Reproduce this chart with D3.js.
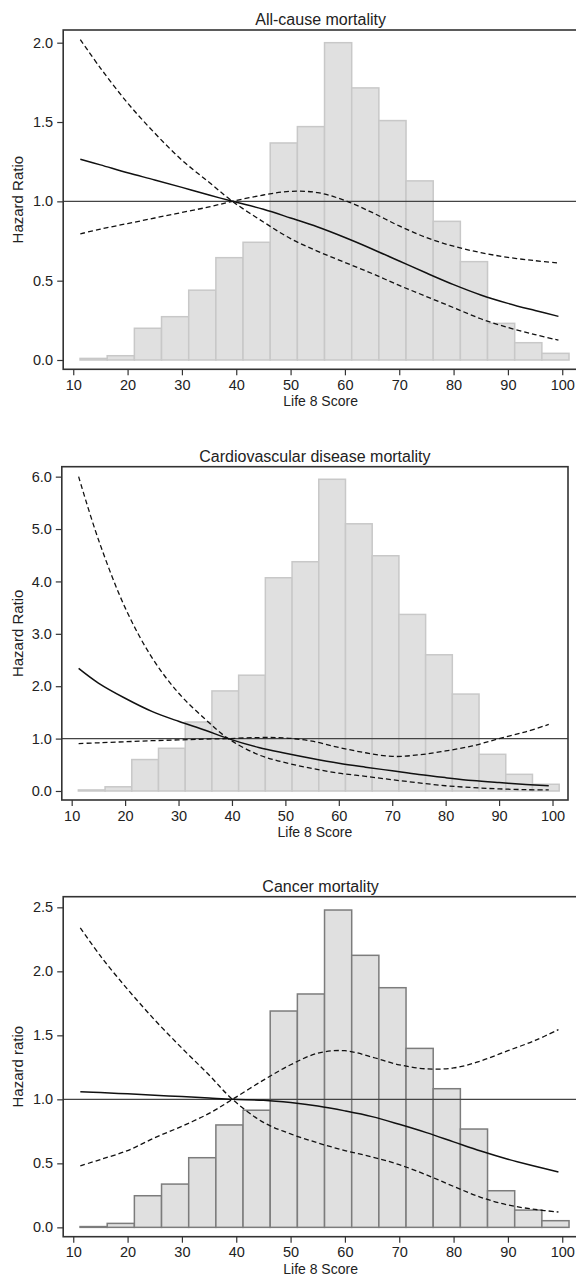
<!DOCTYPE html>
<html>
<head>
<meta charset="utf-8">
<script src="https://cdn.jsdelivr.net/npm/d3@7"></script>
<style>
  body { margin: 0; background: #fff; }
  svg { display: block; font-family: "Liberation Sans", Arial, sans-serif; }
</style>
</head>
<body>
<div id="chart"></div>
<script>
// histogram bins (width 5), left edges
const binStart = [11.25, 16.25, 21.25, 26.25, 31.25, 36.25, 41.25, 46.25, 51.25,
  56.25, 61.25, 66.25, 71.25, 76.25, 81.25, 86.25, 91.25, 96.25];
const binWidth = 5;

const allHist = [0.01, 0.027, 0.20, 0.273, 0.44, 0.645, 0.742, 1.368, 1.471,
  2.0, 1.715, 1.509, 1.129, 0.874, 0.62, 0.231, 0.109, 0.042];
const cvdHist = [0.02, 0.08, 0.60, 0.815, 1.317, 1.91, 2.21, 4.07, 4.376,
  5.95, 5.10, 4.49, 3.37, 2.60, 1.85, 0.70, 0.318, 0.128];
const cancerHist = [0.006, 0.031, 0.247, 0.338, 0.544, 0.80, 0.915, 1.69, 1.823,
  2.479, 2.125, 1.872, 1.398, 1.083, 0.768, 0.286, 0.135, 0.052];

// spline curves (hazard ratio and 95% CI)
const curveX = [11.3, 15, 20, 25, 30, 35, 39.3, 45, 50, 55, 60, 65, 70, 75, 80, 85, 90, 95, 99.3];

const allHR    = [1.265, 1.23, 1.18, 1.135, 1.088, 1.04, 1.0, 0.95, 0.895, 0.838, 0.772, 0.70, 0.624, 0.548, 0.475, 0.41, 0.357, 0.312, 0.275];
const allUpper = [0.795, 0.825, 0.86, 0.895, 0.93, 0.965, 1.0, 1.04, 1.063, 1.055, 1.005, 0.93, 0.845, 0.772, 0.717, 0.677, 0.647, 0.626, 0.612];
const allLower = [2.02, 1.84, 1.62, 1.43, 1.26, 1.12, 1.0, 0.87, 0.765, 0.685, 0.615, 0.545, 0.47, 0.40, 0.33, 0.26, 0.205, 0.16, 0.125];

const cvdHR    = [2.34, 2.06, 1.77, 1.52, 1.33, 1.16, 1.0, 0.83, 0.72, 0.62, 0.53, 0.455, 0.385, 0.315, 0.255, 0.2, 0.16, 0.125, 0.10];
const cvdUpper = [0.905, 0.92, 0.94, 0.96, 0.975, 0.99, 1.0, 1.02, 1.012, 0.95, 0.83, 0.73, 0.66, 0.69, 0.765, 0.86, 1.0, 1.13, 1.27];
const cvdLower = [6.0, 4.8, 3.5, 2.55, 1.87, 1.37, 1.0, 0.69, 0.54, 0.43, 0.34, 0.28, 0.215, 0.155, 0.1, 0.065, 0.04, 0.025, 0.02];

const cancerHR    = [1.06, 1.053, 1.043, 1.032, 1.022, 1.01, 1.0, 0.993, 0.975, 0.948, 0.91, 0.865, 0.805, 0.74, 0.668, 0.596, 0.532, 0.477, 0.432];
const cancerUpper = [0.48, 0.53, 0.60, 0.70, 0.79, 0.89, 1.0, 1.15, 1.27, 1.36, 1.38, 1.33, 1.27, 1.238, 1.245, 1.30, 1.38, 1.46, 1.545];
const cancerLower = [2.34, 2.12, 1.86, 1.62, 1.40, 1.19, 1.0, 0.82, 0.73, 0.66, 0.60, 0.55, 0.49, 0.41, 0.32, 0.235, 0.175, 0.14, 0.12];

const xTicks = [10, 20, 30, 40, 50, 60, 70, 80, 90, 100];

const panels = [
  { title: "All-cause mortality", ylab: "Hazard Ratio", hist: allHist,
    hr: allHR, upper: allUpper, lower: allLower,
    yTicks: [0, 0.5, 1, 1.5, 2], yDomain: [-0.0586, 2.08],
    left: 63.2, right: 578, top: 30, bottom: 369.3, barStroke: "#c8c8c8" },
  { title: "Cardiovascular disease mortality", ylab: "Hazard Ratio", hist: cvdHist,
    hr: cvdHR, upper: cvdUpper, lower: cvdLower,
    yTicks: [0, 1, 2, 3, 4, 5, 6], yDomain: [-0.172, 6.19],
    left: 61.8, right: 568, top: 466.7, bottom: 800, barStroke: "#c8c8c8" },
  { title: "Cancer mortality", ylab: "Hazard ratio", hist: cancerHist,
    hr: cancerHR, upper: cancerUpper, lower: cancerLower,
    yTicks: [0, 0.5, 1, 1.5, 2, 2.5], yDomain: [-0.073, 2.583],
    left: 63.2, right: 578, top: 896.7, bottom: 1236.7, barStroke: "#7c7c7c" }
];

const svg = d3.select("#chart").append("svg")
  .attr("width", 576)
  .attr("height", 1277);

panels.forEach((p, k) => {
  const x = d3.scaleLinear().domain([8.15, 102.9]).range([p.left, p.right]);
  const y = d3.scaleLinear().domain(p.yDomain).range([p.bottom, p.top]);
  const g = svg.append("g");

  const clipId = "clip" + k;
  g.append("clipPath").attr("id", clipId)
    .append("rect")
    .attr("x", p.left).attr("y", p.top)
    .attr("width", p.right - p.left).attr("height", p.bottom - p.top);

  const plot = g.append("g").attr("clip-path", `url(#${clipId})`);

  // histogram
  plot.selectAll("rect.bar")
    .data(binStart.map((b, i) => ({ x0: b, h: p.hist[i] })))
    .enter()
    .append("rect")
    .attr("class", "bar")
    .attr("x", d => x(d.x0))
    .attr("y", d => y(d.h))
    .attr("width", d => x(d.x0 + binWidth) - x(d.x0))
    .attr("height", d => y(0) - y(d.h))
    .attr("fill", "#e0e0e0")
    .attr("stroke", p.barStroke)
    .attr("stroke-width", 1.5);

  // reference line at HR = 1
  plot.append("line")
    .attr("x1", p.left).attr("x2", p.right)
    .attr("y1", y(1)).attr("y2", y(1))
    .attr("stroke", "#444")
    .attr("stroke-width", 1.2);

  const line = d3.line()
    .x((d, i) => x(curveX[i]))
    .y(d => y(d))
    .curve(d3.curveCatmullRom.alpha(0.5));

  [p.upper, p.lower].forEach(vals => {
    plot.append("path")
      .attr("d", line(vals))
      .attr("fill", "none")
      .attr("stroke", "#111")
      .attr("stroke-width", 1.3)
      .attr("stroke-dasharray", "5,3");
  });

  plot.append("path")
    .attr("d", line(p.hr))
    .attr("fill", "none")
    .attr("stroke", "#111")
    .attr("stroke-width", 1.5);

  // frame
  g.append("rect")
    .attr("x", p.left).attr("y", p.top)
    .attr("width", p.right - p.left).attr("height", p.bottom - p.top)
    .attr("fill", "none")
    .attr("stroke", "#333")
    .attr("stroke-width", 1.6);

  // axes
  const yAxis = g.append("g")
    .attr("transform", `translate(${p.left},0)`)
    .call(d3.axisLeft(y).tickValues(p.yTicks).tickFormat(d3.format(".1f")).tickSize(6).tickPadding(4));
  const xAxis = g.append("g")
    .attr("transform", `translate(0,${p.bottom})`)
    .call(d3.axisBottom(x).tickValues(xTicks).tickSize(6).tickPadding(4.5));

  [yAxis, xAxis].forEach(a => {
    a.select(".domain").remove();
    a.selectAll("line").attr("stroke", "#333").attr("stroke-width", 1.2);
    a.selectAll("text").attr("fill", "#222").style("font-size", "14.5px")
      .style("font-family", '"Liberation Sans", Arial, sans-serif');
  });

  const mid = (p.left + p.right) / 2;

  g.append("text")
    .attr("x", mid)
    .attr("y", p.top - 5)
    .attr("text-anchor", "middle")
    .attr("fill", "#222")
    .style("font-size", "16px")
    .text(p.title);

  g.append("text")
    .attr("x", mid)
    .attr("y", p.bottom + 37)
    .attr("text-anchor", "middle")
    .attr("fill", "#222")
    .style("font-size", "14px")
    .text("Life 8 Score");

  g.append("text")
    .attr("transform", `translate(23,${(p.top + p.bottom) / 2}) rotate(-90)`)
    .attr("text-anchor", "middle")
    .attr("fill", "#222")
    .style("font-size", "15px")
    .text(p.ylab);
});
</script>
</body>
</html>
